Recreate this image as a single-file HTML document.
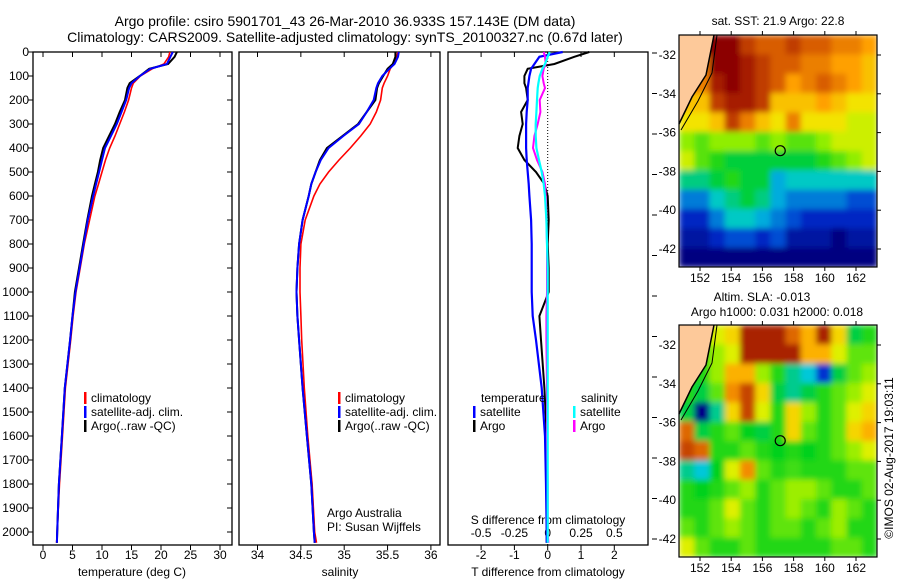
<!DOCTYPE html>
<html><head><meta charset="utf-8">
<style>
body{margin:0;background:#fff;}
svg{display:block;font-family:"Liberation Sans",sans-serif;}
text{fill:#000;}
</style></head>
<body>
<svg id="c" width="900" height="580" viewBox="0 0 900 580" xmlns="http://www.w3.org/2000/svg">
<defs>
<filter id="blur" x="0" y="0" width="1" height="1" filterUnits="objectBoundingBox"><feGaussianBlur stdDeviation="3" edgeMode="duplicate"/></filter>
<clipPath id="clipA"><rect x="679" y="35" width="198" height="232"/></clipPath>
<clipPath id="clipB"><rect x="679" y="325" width="198" height="232"/></clipPath>
</defs>
<text x="345" y="26" font-size="14" text-anchor="middle">Argo profile: csiro 5901701_43 26-Mar-2010 36.933S 157.143E (DM data)</text>
<text x="345" y="42" font-size="14" text-anchor="middle">Climatology: CARS2009. Satellite-adjusted climatology: synTS_20100327.nc (0.67d later)</text>
</svg>
<script>
// ---- profile data ----
const depths = [0,20,50,70,100,130,150,200,250,300,350,400,450,500,550,600,700,800,900,1000,1100,1200,1400,1600,1800,2000,2045];
const tempArgo = [22.7,22.3,21.2,18.0,16.4,14.7,14.3,13.9,13.0,12.2,11.2,10.2,9.7,9.3,8.8,8.3,7.5,6.8,6.1,5.4,5.0,4.6,3.7,3.2,2.7,2.4,2.35];
const tempClim = [21.5,21.3,20.5,18.5,16.5,15.3,15.0,14.5,13.8,13.0,12.2,11.3,10.6,10.0,9.4,8.8,7.9,7.0,6.3,5.6,5.1,4.7,3.8,3.3,2.8,2.4,2.3];
const tempSat = [22.0,21.6,21.0,18.2,16.4,15.0,14.6,14.1,13.3,12.5,11.5,10.5,10.0,9.5,9.0,8.5,7.6,6.9,6.2,5.5,5.0,4.6,3.7,3.2,2.7,2.4,2.35];
const salArgo = [35.59,35.59,35.56,35.50,35.45,35.40,35.38,35.36,35.26,35.16,34.98,34.80,34.72,34.67,34.62,34.59,34.52,34.48,34.46,34.45,34.46,34.48,34.52,34.57,34.62,34.65,34.66];
const salClim = [35.62,35.60,35.57,35.53,35.50,35.46,35.44,35.42,35.37,35.30,35.19,35.07,34.94,34.82,34.72,34.65,34.55,34.50,34.49,34.49,34.50,34.51,34.54,34.58,34.63,34.66,34.68];
const salSat = [35.63,35.62,35.58,35.52,35.44,35.39,35.37,35.34,35.26,35.17,34.99,34.82,34.73,34.67,34.62,34.59,34.52,34.48,34.46,34.45,34.46,34.48,34.52,34.57,34.62,34.65,34.66];
const tDiffArgo = [1.25,0.8,0.2,-0.6,-0.7,-0.7,-0.65,-0.6,-0.8,-0.75,-0.85,-0.9,-0.7,-0.35,-0.1,0.0,0.03,0.0,0.03,0.03,-0.25,-0.2,-0.1,-0.03,-0.03,-0.03,-0.03];
const tDiffSat = [0.45,-0.25,-0.4,-0.5,-0.55,-0.58,-0.6,-0.6,-0.63,-0.65,-0.65,-0.65,-0.63,-0.6,-0.57,-0.55,-0.5,-0.48,-0.48,-0.48,-0.45,-0.35,-0.18,-0.08,-0.05,-0.03,-0.03];
const sDiffArgo = [-0.03,-0.02,-0.015,-0.03,-0.04,-0.03,-0.02,-0.06,-0.055,-0.075,-0.1,-0.11,-0.08,-0.04,-0.02,-0.015,-0.01,-0.005,-0.005,-0.005,-0.01,-0.01,-0.005,-0.005,0,0,0.005];
const sDiffSat = [0.015,0.0,-0.02,-0.04,-0.06,-0.07,-0.075,-0.08,-0.085,-0.09,-0.09,-0.085,-0.065,-0.045,-0.03,-0.02,-0.01,-0.005,0,0,0,0,0,0,0,0,0];
const depthTicks = [0,100,200,300,400,500,600,700,800,900,1000,1100,1200,1300,1400,1500,1600,1700,1800,1900,2000];
const tempTicks = [0,5,10,15,20,25,30];
const salTicks = [34,34.5,35,35.5,36];
const tDiffTicks = [-2,-1,0,1,2];
const sDiffTicks = [-0.5,-0.25,0,0.25,0.5];
const sDiffLabels = ["-0.5","-0.25","0","0.25","0.5"];

// ---- map data ----
const sstGrid = [
 [null,24,24,24,23,22.5,22.5,23,22.5,22.5,22,22,21.5],
 [null,22,24,24,23.5,23,22.5,22.5,22,22,21.5,21.5,21],
 [null,22,23.5,24,23.5,23,22.5,21.5,22,22.5,22,21.5,21],
 [21,21,23,23.5,23.5,23,21,21,21,21.5,21,20.5,20.5],
 [20.5,20.5,21,23,22,21,20.5,22,20.5,20.5,20.5,20,20],
 [19.5,19,19.5,19.5,19.5,19,19.5,19,19,19.5,20,20,20],
 [20,19,18.5,18,18,18,18,18,18,18.5,19,19.5,20],
 [17.5,17.5,18,18.5,18,18,16.5,17,17,17,17,17,17],
 [16,16,17,17.5,18,17.5,16.5,16,16,16,16,15.5,15.5],
 [15,15,16,17,17,16.5,16,15.5,15,15,15,15,15],
 [14.5,14.5,15,15.5,15.5,15,15.5,14.5,14.5,14.5,14,14.5,14.5],
 [14,14,14,14,14,14,14,14,14,14,14,14,14]
];
const slaGrid = [
 [null,0.1,0.3,0.4,0.9,0.9,0.9,0.7,0.5,0.9,0.4,-0.1,0],
 [null,0,0.2,0.3,0.9,0.9,0.9,0.9,0.5,0.5,0.3,0.1,0.1],
 [null,0,0.2,0.5,0.5,0.2,0,-0.2,-0.3,-0.6,-0.1,0.1,0.2],
 [0,-0.1,0.1,0.6,0.8,0.4,-0.1,-0.2,-0.1,0,0.1,0.2,0.3],
 [-0.1,-0.8,-0.2,0.4,0.8,0.3,0,0.4,0.2,0,0.1,0.3,0.4],
 [0.7,-0.1,0,0.1,-0.05,-0.1,0,0.4,0.1,0,0.1,0.4,0.5],
 [0.8,0.7,0,0,0.1,0,-0.05,0,-0.05,0,0.1,0.2,0.3],
 [-0.2,-0.3,-0.05,0.3,0.6,0.1,0,0.05,0,0,0,0.1,0.1],
 [0,-0.05,0,0.1,0.2,0,0.1,0.2,0.2,0.1,0,0,0.1],
 [0,0,0.1,0.3,0.1,0,0.1,0.2,0.1,0,0.2,0.1,0],
 [0.1,0,0.1,0.2,0.1,0,0.1,0.1,0,0.1,0.2,0,0],
 [0.3,0.1,0,0,0.1,0,0,0,0,0,0.1,0.1,0]
];
const lonTicks = [152,154,156,158,160,162];
const latTicks = [-32,-34,-36,-38,-40,-42];
const argoLon = 157.143, argoLat = -36.933;

const NS="http://www.w3.org/2000/svg";
const svg=document.getElementById('c');
function mk(tag,attrs,parent){const e=document.createElementNS(NS,tag);for(const k in attrs)e.setAttribute(k,attrs[k]);(parent||svg).appendChild(e);return e;}
function txt(x,y,s,size,anchor,parent){const t=mk('text',{x:x,y:y,'font-size':size,'text-anchor':anchor||'start'},parent);t.textContent=s;return t;}

const yTop=52,yBot=545;
const yD=d=>yTop+d*0.24;
const panels=[{x0:33,x1:232},{x0:239,x1:440},{x0:448,x1:648}];
const xT=v=>43+v*5.9;
const xS=v=>257.5+(v-34)*86.7;
const xTD=v=>547.7+v*33.3;
const xSD=v=>547.7+v*133.2;

depthTicks.forEach(d=>{
 const t=txt(29,yD(d)+4,String(d),12,'end');
 
 
});
panels.forEach((p,i)=>{
 const g=mk('g',{});
 
 
 mk('rect',{x:p.x0,y:yTop,width:p.x1-p.x0,height:yBot-yTop,fill:'none',stroke:'#000','stroke-width':1.3},g);
});
depthTicks.forEach(d=>{
 mk('line',{x1:28,x2:33,y1:yD(d),y2:yD(d),stroke:'#000'});
 mk('line',{x1:227,x2:232,y1:yD(d),y2:yD(d),stroke:'#000'});
});
for(let k=0;k<13;k++){mk('line',{x1:652,x2:657,y1:53+k*40.5,y2:53+k*40.5,stroke:'#000'});}

function xticks(ticks,labels,fx,y){
 ticks.forEach((v,i)=>{
  const x=fx(v);
  mk('line',{x1:x,x2:x,y1:yBot,y2:yBot+5,stroke:'#000'});
  mk('line',{x1:x,x2:x,y1:yTop,y2:yTop+5,stroke:'#000'});
  const t=txt(x,y,labels[i],12,'middle');
  
  
 });
}
xticks(tempTicks,tempTicks.map(String),xT,559);
xticks(salTicks,salTicks.map(String),xS,559);
xticks(tDiffTicks,tDiffTicks.map(String),xTD,559);
sDiffTicks.forEach((v,i)=>{
 const t=txt(xSD(v),537,sDiffLabels[i],12,'middle');
 
 
});
mk('line',{x1:xTD(0),x2:xTD(0),y1:yTop,y2:yBot,stroke:'#000','stroke-dasharray':'1,2'});

let a;
a=txt(132,576,'temperature (deg C)',12,'middle');
a=txt(340,576,'salinity',12,'middle');
a=txt(548,576,'T difference from climatology',12,'middle');
a=txt(548,524,'S difference from climatology',12,'middle');
a=txt(327,517,'Argo Australia',12,'start');
a=txt(327,531,'PI: Susan Wijffels',12,'start');

function line(vals,fx,color,w,name){
 const pts=vals.map((v,i)=>fx(v).toFixed(1)+','+yD(depths[i]).toFixed(1)).join(' ');
 const p=mk('polyline',{points:pts,fill:'none',stroke:color,'stroke-width':w});
 
 
}
line(tempClim,xT,'#ff0000',1.6,'temp-climatology-line');
line(tempArgo,xT,'#000000',2,'temp-argo-line');
line(tempSat,xT,'#0000ff',2,'temp-satellite-line');
line(salClim,xS,'#ff0000',1.6,'sal-climatology-line');
line(salArgo,xS,'#000000',2,'sal-argo-line');
line(salSat,xS,'#0000ff',2,'sal-satellite-line');
line(tDiffArgo,xTD,'#000000',2,'tdiff-argo-line');
line(tDiffSat,xTD,'#0000ff',2.2,'tdiff-satellite-line');
line(sDiffArgo,xSD,'#ff00ff',2,'sdiff-argo-line');
line(sDiffSat,xSD,'#00ffff',2.2,'sdiff-satellite-line');

function legend(x,y,color,label){
 const g=mk('g',{});
 
 
 mk('rect',{x:x,y:y-10,width:2.5,height:12,fill:color},g);
 txt(x+7,y,label,12,'start',g);
}
[[84,'#ff0000','climatology'],[84,'#0000ff','satellite-adj. clim.'],[84,'#000','Argo(..raw -QC)']].forEach((e,i)=>legend(e[0],402+i*14,e[1],e[2]));
[[338,'#ff0000','climatology'],[338,'#0000ff','satellite-adj. clim.'],[338,'#000','Argo(..raw -QC)']].forEach((e,i)=>legend(e[0],402+i*14,e[1],e[2]));
a=txt(481,402,'temperature',12,'start');
a=txt(581,402,'salinity',12,'start');
legend(473,416,'#0000ff','satellite');legend(473,430,'#000','Argo');
legend(573,416,'#00ffff','satellite');legend(573,430,'#ff00ff','Argo');

// ---- maps ----
const stops=[[0,[0,0,128]],[0.12,[0,48,208]],[0.28,[0,200,224]],[0.42,[0,208,32]],[0.55,[144,238,0]],[0.63,[240,240,0]],[0.75,[255,160,0]],[0.87,[208,80,0]],[1,[140,0,0]]];
function cmap(t){t=Math.max(0,Math.min(1,t));for(let i=1;i<stops.length;i++){if(t<=stops[i][0]){const s0=stops[i-1],s1=stops[i];const f=(t-s0[0])/(s1[0]-s0[0]);const c=s0[1].map((v,k)=>Math.round(v+(s1[1][k]-v)*f));return 'rgb('+c.join(',')+')';}}return 'rgb(140,0,0)';}
function drawMap(y0,grid,tf,name,clip){
 const x0=679,x1=877,y1=y0+232;
 const g=mk('g',{});
 
 
 const rows=grid.length,cols=grid[0].length,cw=(x1-x0)/cols,ch=(y1-y0)/rows;
 const cg=mk('g',{'clip-path':'url(#'+clip+')'},g);
 const bg=mk('g',{filter:'url(#blur)'},cg);
 grid.forEach((row,r)=>row.forEach((v,c)=>{
  const val=(v===null)?row[c+1]:v;
  const cell=mk('rect',{x:(x0+c*cw).toFixed(1),y:(y0+r*ch).toFixed(1),width:(cw+0.6).toFixed(1),height:(ch+0.6).toFixed(1),fill:cmap(tf(val))},bg);
  
  
 }));
 mk('polygon',{points:`${x0},${y0} 714,${y0} 706,${y0+40} 692,${y0+62} 679,${y0+89}`,fill:'#fdc99a'},g);
 mk('polyline',{points:`717,${y0} 712,${y0+38} 698,${y0+66} 681,${y0+95}`,fill:'none',stroke:'#000','stroke-width':1},g);
 mk('polyline',{points:`714,${y0} 706,${y0+40} 692,${y0+62} 679,${y0+89}`,fill:'none',stroke:'#000','stroke-width':1.5},g);
 mk('rect',{x:x0,y:y0,width:x1-x0,height:y1-y0,fill:'none',stroke:'#000','stroke-width':1.2},g);
 const lx=v=>700+(v-152)*15.6, ly=v=>y0+20+(-32-v)*19.4;
 lonTicks.forEach(v=>{
  mk('line',{x1:lx(v),x2:lx(v),y1:y1,y2:y1+4,stroke:'#000'},g);
  mk('line',{x1:lx(v),x2:lx(v),y1:y0,y2:y0-4,stroke:'#000'},g);
  const t=txt(lx(v),y1+15,String(v),12,'middle',g);
  
  
 });
 latTicks.forEach(v=>{
  mk('line',{x1:x1,x2:x1+4,y1:ly(v),y2:ly(v),stroke:'#000'},g);
  const t=txt(676,ly(v)+4,String(v),12,'end',g);
  
  
 });
 const m=mk('circle',{cx:lx(argoLon),cy:ly(argoLat),r:5,fill:'none',stroke:'#000','stroke-width':1.2},g);
 
 
}
drawMap(35,sstGrid,v=>(v-14)/10,'sst-map','clipA');
drawMap(325,slaGrid,v=>0.45+v*0.55,'sla-map','clipB');
a=txt(778,25,'sat. SST: 21.9 Argo: 22.8',12,'middle');
a=txt(762,301,'Altim. SLA: -0.013',12,'middle');
a=txt(777,316,'Argo h1000: 0.031 h2000: 0.018',12,'middle');
a=txt(0,0,'©IMOS 02-Aug-2017 19:03:11',12,'middle');a.setAttribute('transform','translate(893,458) rotate(-90)');
</script>
</body></html>
